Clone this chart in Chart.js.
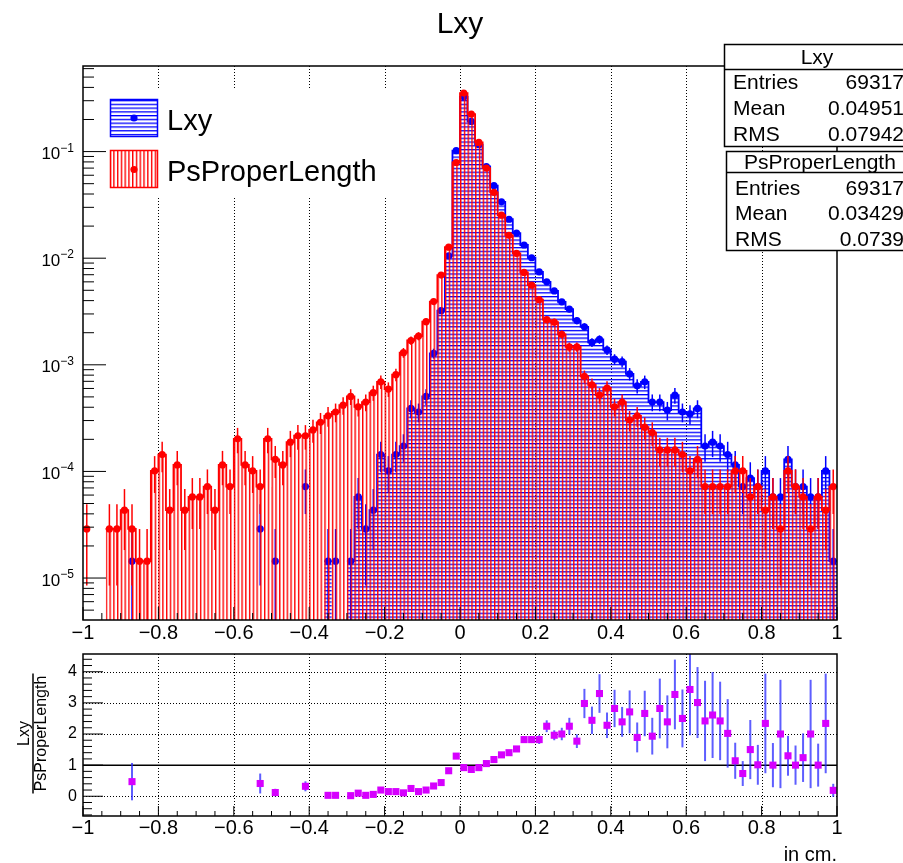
<!DOCTYPE html>
<html lang="en">
  <head>
    <meta charset="UTF-8" />
    <meta name="viewport" content="width=device-width, initial-scale=1.0" />
    <title>Lxy</title>
    <style>
      html, body { margin: 0; padding: 0; background: #fff; }
      #wrap { position: relative; width: 903px; height: 863px; overflow: hidden; }
      #wrap canvas { position: absolute; left: 0; top: 0; }
    </style>
  </head>
  <body>
    <div id="wrap">
      <canvas id="mainPad" width="903" height="863"></canvas>
      <canvas id="ratioPad" width="903" height="863"></canvas>
    </div>
    <script src="https://cdn.jsdelivr.net/npm/chart.js"></script>
    <script>
      // binning: 100 bins from -1 to 1 cm
      const X_MIN = -1;
      const X_MAX = 1;
      const N_BINS = 100;

      // normalised bin contents (fraction of entries per bin)
      const lxy = [
        0, 0, 0, 0, 0, 0, 1.44e-5, 0, 0, 0,
        0, 0, 0, 0, 0, 0, 0, 0, 0, 0,
        0, 0, 0, 2.89e-5, 0, 1.44e-5, 0, 0, 0, 7.21e-5,
        0, 0, 1.44e-5, 1.44e-5, 0, 1.44e-5, 5.77e-5, 2.89e-5, 4.33e-5, 1.44e-4,
        1.01e-4, 1.44e-4, 1.73e-4, 3.90e-4, 3.61e-4, 5.05e-4, 1.28e-3, 3.22e-3, 1.05e-2, 0.102,
        0.326, 0.192, 0.116, 0.0725, 0.048, 0.0338, 0.0232, 0.0172, 0.0133, 0.0101,
        7.45e-3, 6.00e-3, 4.93e-3, 3.90e-3, 3.33e-3, 2.60e-3, 2.27e-3, 1.62e-3, 1.73e-3, 1.38e-3,
        1.13e-3, 1.07e-3, 8.22e-4, 6.35e-4, 6.92e-4, 4.47e-4, 4.47e-4, 3.75e-4, 5.19e-4, 3.61e-4,
        3.46e-4, 3.90e-4, 1.73e-4, 1.88e-4, 1.73e-4, 1.44e-4, 1.15e-4, 7.21e-5, 8.66e-5, 7.21e-5,
        1.01e-4, 5.77e-5, 5.77e-5, 1.30e-4, 7.21e-5, 7.21e-5, 5.77e-5, 5.77e-5, 1.01e-4, 1.44e-5,
      ];
      const lxyErr = [
        0, 0, 0, 0, 0, 0, 1.44e-5, 0, 0, 0,
        0, 0, 0, 0, 0, 0, 0, 0, 0, 0,
        0, 0, 0, 2.04e-5, 0, 1.44e-5, 0, 0, 0, 3.23e-5,
        0, 0, 1.44e-5, 1.44e-5, 0, 1.44e-5, 2.89e-5, 2.04e-5, 2.50e-5, 4.56e-5,
        3.82e-5, 4.56e-5, 5.00e-5, 7.50e-5, 7.21e-5, 8.54e-5, 1.36e-4, 2.15e-4, 3.89e-4, 1.21e-3,
        2.17e-3, 1.66e-3, 1.29e-3, 1.02e-3, 8.32e-4, 6.98e-4, 5.79e-4, 4.98e-4, 4.38e-4, 3.82e-4,
        3.28e-4, 2.94e-4, 2.67e-4, 2.37e-4, 2.19e-4, 1.94e-4, 1.81e-4, 1.53e-4, 1.58e-4, 1.41e-4,
        1.27e-4, 1.24e-4, 1.09e-4, 9.57e-5, 1.00e-4, 8.03e-5, 8.03e-5, 7.36e-5, 8.66e-5, 7.21e-5,
        7.07e-5, 7.50e-5, 5.00e-5, 5.20e-5, 5.00e-5, 4.56e-5, 4.08e-5, 3.23e-5, 3.53e-5, 3.23e-5,
        3.82e-5, 2.89e-5, 2.89e-5, 4.33e-5, 3.23e-5, 3.23e-5, 2.89e-5, 2.89e-5, 3.82e-5, 1.44e-5,
      ];
      const psProperLength = [
        2.89e-5, 0, 0, 2.89e-5, 2.89e-5, 4.33e-5, 2.89e-5, 1.44e-5, 1.44e-5, 1.01e-4,
        1.44e-4, 4.33e-5, 1.15e-4, 4.33e-5, 5.77e-5, 5.77e-5, 7.21e-5, 4.33e-5, 1.15e-4, 7.21e-5,
        2.02e-4, 1.15e-4, 1.01e-4, 7.21e-5, 2.02e-4, 1.30e-4, 1.15e-4, 1.88e-4, 2.16e-4, 2.16e-4,
        2.45e-4, 2.89e-4, 3.32e-4, 3.61e-4, 4.18e-4, 5.05e-4, 4.04e-4, 4.47e-4, 5.48e-4, 6.92e-4,
        5.92e-4, 8.08e-4, 1.30e-3, 1.69e-3, 1.86e-3, 2.54e-3, 3.92e-3, 6.95e-3, 1.27e-2, 7.90e-2,
        0.354, 0.225, 0.122, 0.070, 0.0415, 0.0253, 0.0164, 0.0111, 7.36e-3, 5.58e-3,
        4.08e-3, 2.65e-3, 2.51e-3, 1.93e-3, 1.47e-3, 1.47e-3, 7.79e-4, 6.49e-4, 5.19e-4, 6.06e-4,
        4.04e-4, 4.47e-4, 3.03e-4, 3.32e-4, 2.60e-4, 2.31e-4, 1.59e-4, 1.59e-4, 1.59e-4, 1.44e-4,
        1.01e-4, 1.30e-4, 7.21e-5, 7.21e-5, 7.21e-5, 7.21e-5, 1.01e-4, 1.01e-4, 5.77e-5, 7.21e-5,
        4.33e-5, 5.77e-5, 2.89e-5, 1.01e-4, 7.21e-5, 5.77e-5, 2.89e-5, 5.77e-5, 4.33e-5, 7.21e-5,
      ];
      const psProperLengthErr = [
        2.04e-5, 0, 0, 2.04e-5, 2.04e-5, 2.50e-5, 2.04e-5, 1.44e-5, 1.44e-5, 3.82e-5,
        4.56e-5, 2.50e-5, 4.08e-5, 2.50e-5, 2.89e-5, 2.89e-5, 3.23e-5, 2.50e-5, 4.08e-5, 3.23e-5,
        5.40e-5, 4.08e-5, 3.82e-5, 3.23e-5, 5.40e-5, 4.33e-5, 4.08e-5, 5.20e-5, 5.59e-5, 5.59e-5,
        5.95e-5, 6.45e-5, 6.92e-5, 7.21e-5, 7.77e-5, 8.54e-5, 7.63e-5, 8.03e-5, 8.89e-5, 1.00e-4,
        9.24e-5, 1.08e-4, 1.37e-4, 1.56e-4, 1.64e-4, 1.91e-4, 2.38e-4, 3.17e-4, 4.29e-4, 1.07e-3,
        2.26e-3, 1.80e-3, 1.33e-3, 1.00e-3, 7.74e-4, 6.04e-4, 4.86e-4, 4.00e-4, 3.26e-4, 2.84e-4,
        2.43e-4, 1.96e-4, 1.90e-4, 1.67e-4, 1.46e-4, 1.46e-4, 1.06e-4, 9.68e-5, 8.66e-5, 9.35e-5,
        7.63e-5, 8.03e-5, 6.61e-5, 6.92e-5, 6.12e-5, 5.77e-5, 4.78e-5, 4.78e-5, 4.78e-5, 4.56e-5,
        3.82e-5, 4.33e-5, 3.23e-5, 3.23e-5, 3.23e-5, 3.23e-5, 3.82e-5, 3.82e-5, 2.89e-5, 3.23e-5,
        2.50e-5, 2.89e-5, 2.04e-5, 3.82e-5, 3.23e-5, 2.89e-5, 2.04e-5, 2.89e-5, 2.50e-5, 3.23e-5,
      ];

      // Lxy / PsProperLength per bin (null where a bin is empty)
      const ratio = [
        null, null, null, null, null, null, 0.47, null, null, null,
        null, null, null, null, null, null, null, null, null, null,
        null, null, null, 0.41, null, 0.12, null, null, null, 0.32,
        null, null, 0.03, 0.03, null, 0.02, 0.10, 0.03, 0.06, 0.20,
        0.15, 0.15, 0.11, 0.25, 0.15, 0.20, 0.33, 0.44, 0.82, 1.29,
        0.92, 0.86, 0.92, 1.05, 1.18, 1.33, 1.40, 1.52, 1.82, 1.82,
        1.82, 2.25, 1.96, 2.00, 2.25, 1.77, 2.98, 2.44, 3.30, 2.28,
        2.82, 2.39, 2.71, 1.89, 2.66, 1.93, 2.82, 2.39, 3.27, 2.50,
        3.43, 3.01, 2.42, 2.61, 2.42, 2.02, 1.14, 0.73, 1.50, 1.01,
        2.34, 1.00, 2.00, 1.30, 1.00, 1.24, 2.00, 1.00, 2.34, 0.19,
      ];
      const ratioErr = [
        0, 0, 0, 0, 0, 0, 0.6, 0, 0, 0,
        0, 0, 0, 0, 0, 0, 0, 0, 0, 0,
        0, 0, 0, 0.32, 0, 0.12, 0, 0, 0, 0.16,
        0, 0, 0.04, 0.04, 0, 0.03, 0.07, 0.05, 0.05, 0.07,
        0.07, 0.06, 0.04, 0.05, 0.04, 0.04, 0.04, 0.04, 0.04, 0.02,
        0.01, 0.01, 0.01, 0.02, 0.03, 0.04, 0.05, 0.06, 0.10, 0.11,
        0.14, 0.19, 0.16, 0.20, 0.27, 0.22, 0.47, 0.44, 0.62, 0.41,
        0.60, 0.48, 0.69, 0.48, 0.73, 0.59, 0.96, 0.85, 1.12, 0.93,
        1.47, 1.14, 1.29, 1.38, 1.26, 1.10, 0.58, 0.40, 0.95, 0.64,
        1.60, 0.71, 1.74, 0.64, 0.63, 0.78, 1.74, 0.69, 1.60, 0.21,
      ];

      // axis labels and stat box contents
      const xTicks = [-1, -0.8, -0.6, -0.4, -0.2, 0, 0.2, 0.4, 0.6, 0.8, 1];
      const logExponents = [-5, -4, -3, -2, -1];
      const ratioTicks = [0, 1, 2, 3, 4];
      const statLabels = ["Entries", "Mean", "RMS"];
      const lxyStats = ["69317", "0.04951", "0.07942"];
      const psStats = ["69317", "0.03429", "0.0739"];

      const Y_MIN = 4.04e-6;
      const Y_MAX = 0.635;
      const R_MIN = -0.634;
      const R_MAX = 4.57;

      const RED = "#ff0000";
      const BLUE = "#0000ff";
      const VIOLET = "#d600ff";
      const FONT = '"Liberation Sans", Arial, Helvetica, sans-serif';

      const binWidth = (X_MAX - X_MIN) / N_BINS;
      const binCenter = (i) => X_MIN + (i + 0.5) * binWidth;

      // step outline: one point per left bin edge, closed at the right edge
      function stepLine(values) {
        const pts = values.map((v, i) => ({ x: X_MIN + i * binWidth, y: v }));
        pts.push({ x: X_MAX, y: values[values.length - 1] });
        return pts;
      }
      function markerPoints(values) {
        return values.map((v, i) => ({ x: binCenter(i), y: v > 0 ? v : null }));
      }

      // ROOT-like hatch: lines every half bin, starting at the frame edge
      function hatch(color, vertical) {
        const tile = document.createElement("canvas");
        tile.width = 8;
        tile.height = 8;
        const g = tile.getContext("2d");
        g.fillStyle = color;
        [0, 4].forEach((o) => {
          if (vertical) g.fillRect(o, 0, 1.5, 8);
          else g.fillRect(0, o, 8, 1.4);
        });
        const p = g.createPattern(tile, "repeat");
        p.setTransform(new DOMMatrix([0.9425, 0, 0, 0.9425, 83, 66]));
        return p;
      }
      const redHatch = hatch(RED, true);
      const blueHatch = hatch(BLUE, false);

      function seg(ctx, x1, y1, x2, y2) {
        ctx.beginPath();
        ctx.moveTo(x1, y1);
        ctx.lineTo(x2, y2);
        ctx.stroke();
      }
      function fmtX(v) {
        if (Math.abs(v) < 1e-9) return "0";
        return (v < 0 ? "\u2212" : "") + String(+Math.abs(v).toFixed(1));
      }

      // vertical error bars, drawn just before a dataset's markers
      const errorBars = {
        id: "errorBars",
        beforeDatasetDraw(chart, args) {
          const ds = chart.data.datasets[args.index];
          if (!ds.errors) return;
          const { ctx, chartArea: a, scales } = chart;
          const x = scales.x, y = scales.y;
          const isLog = y.type === "logarithmic";
          ctx.save();
          ctx.beginPath();
          ctx.rect(a.left, a.top, a.right - a.left, a.bottom - a.top);
          ctx.clip();
          ctx.strokeStyle = ds.errColor;
          ctx.lineWidth = ds.errWidth;
          ds.data.forEach((p, i) => {
            const e = ds.errors[i];
            if (p.y === null || !e) return;
            const px = x.getPixelForValue(p.x);
            const lo = p.y - e;
            const yLo = isLog && lo <= 0 ? a.bottom + 5 : y.getPixelForValue(lo);
            const yHi = y.getPixelForValue(p.y + e);
            seg(ctx, px, yLo, px, yHi);
          });
          ctx.restore();
        },
      };

      function drawStatsBox(ctx, left, top, height, headH, title, titleX, rowsY, labelX, values) {
        const w = 200;
        ctx.fillStyle = "#fff";
        ctx.fillRect(left, top, w, height);
        ctx.strokeStyle = "#000";
        ctx.lineWidth = 1.5;
        ctx.strokeRect(left, top, w, height);
        seg(ctx, left, top + headH, left + w, top + headH);
        ctx.fillStyle = "#000";
        ctx.font = `21px ${FONT}`;
        ctx.textBaseline = "middle";
        ctx.textAlign = "center";
        ctx.fillText(title, titleX, top + headH / 2 + 1);
        statLabels.forEach((lab, i) => {
          ctx.textAlign = "left";
          ctx.fillText(lab, labelX, rowsY[i]);
          ctx.textAlign = "right";
          ctx.fillText(values[i], 904, rowsY[i]);
        });
      }

      const mainDecor = {
        id: "mainDecor",
        beforeDatasetsDraw(chart) {
          const { ctx, chartArea: a, scales: { x } } = chart;
          ctx.save();
          ctx.strokeStyle = "#000";
          ctx.lineWidth = 1;
          ctx.setLineDash([1, 2]);
          xTicks.slice(1, -1).forEach((v) => {
            const px = Math.round(x.getPixelForValue(v)) + 0.5;
            seg(ctx, px, a.top, px, a.bottom);
          });
          ctx.restore();
        },
        afterDatasetsDraw(chart) {
          const ctx = chart.ctx;
          ctx.save();
          ctx.fillStyle = "#fff";
          ctx.fillRect(92, 90, 296, 106);
          const entries = [
            { pat: blueHatch, color: BLUE, top: 99.5, dotY: 118, text: "Lxy", base: 130 },
            { pat: redHatch, color: RED, top: 150.5, dotY: 169.5, text: "PsProperLength", base: 180.5 },
          ];
          entries.forEach((e) => {
            ctx.fillStyle = e.pat;
            ctx.fillRect(110.5, e.top, 47, 37);
            ctx.strokeStyle = e.color;
            ctx.lineWidth = 1.5;
            ctx.strokeRect(110.5, e.top, 47, 37);
            ctx.fillStyle = e.color;
            ctx.beginPath();
            ctx.arc(134, e.dotY, 3.6, 0, Math.PI * 2);
            ctx.fill();
            ctx.fillStyle = "#000";
            ctx.font = `29px ${FONT}`;
            ctx.textAlign = "left";
            ctx.textBaseline = "alphabetic";
            ctx.fillText(e.text, 167, e.base);
          });
          ctx.restore();
        },
        afterDraw(chart) {
          const { ctx, chartArea: a, scales: { x, y } } = chart;
          ctx.save();
          ctx.strokeStyle = "#000";
          ctx.lineWidth = 1;
          // x ticks: major every 0.2, minor every 0.05
          for (let i = 0; i <= 40; i++) {
            const px = x.getPixelForValue(X_MIN + i * 0.05);
            seg(ctx, px, a.bottom, px, a.bottom - (i % 4 === 0 ? 13 : 7));
          }
          // log y ticks
          for (let e = -6; e <= 0; e++) {
            for (let m = 1; m <= 9; m++) {
              const v = m * Math.pow(10, e);
              if (v < y.min || v > y.max) continue;
              const py = y.getPixelForValue(v);
              seg(ctx, a.left, py, a.left + (m === 1 ? 23 : 11), py);
            }
          }
          ctx.lineWidth = 1.5;
          ctx.strokeRect(a.left, a.top, a.right - a.left, a.bottom - a.top);

          ctx.fillStyle = "#000";
          ctx.font = `20px ${FONT}`;
          ctx.textAlign = "center";
          ctx.textBaseline = "middle";
          xTicks.forEach((v) => ctx.fillText(fmtX(v), x.getPixelForValue(v), 633));

          // 10^n labels
          logExponents.forEach((e) => {
            const py = y.getPixelForValue(Math.pow(10, e));
            const sup = "\u2212" + Math.abs(e);
            ctx.textAlign = "left";
            ctx.textBaseline = "alphabetic";
            ctx.font = `12px ${FONT}`;
            const wSup = ctx.measureText(sup).width;
            ctx.font = `17px ${FONT}`;
            const wBase = ctx.measureText("10").width;
            ctx.fillText("10", 74 - wSup - wBase, py + 7.5);
            ctx.font = `12px ${FONT}`;
            ctx.fillText(sup, 74 - wSup, py);
          });

          ctx.font = `30px ${FONT}`;
          ctx.textAlign = "center";
          ctx.fillText("Lxy", 460, 33);

          drawStatsBox(ctx, 724.5, 44.5, 102, 25, "Lxy", 817, [83, 109, 135], 733, lxyStats);
          drawStatsBox(ctx, 726.5, 151.5, 99, 21, "PsProperLength", 820, [189, 214, 240], 735, psStats);
          ctx.restore();
        },
      };

      new Chart(document.getElementById("mainPad"), {
        type: "line",
        data: {
          datasets: [
            {
              label: "PsProperLength",
              data: markerPoints(psProperLength),
              errors: psProperLengthErr,
              errColor: RED,
              errWidth: 1.5,
              showLine: false,
              pointRadius: 3.6,
              pointBackgroundColor: RED,
              pointBorderWidth: 0,
            },
            {
              label: "PsProperLength hist",
              data: stepLine(psProperLength),
              stepped: "before",
              borderColor: RED,
              borderWidth: 1.8,
              backgroundColor: redHatch,
              fill: "start",
              pointRadius: 0,
            },
            {
              label: "Lxy",
              data: markerPoints(lxy),
              errors: lxyErr,
              errColor: BLUE,
              errWidth: 1.5,
              showLine: false,
              pointRadius: 3.6,
              pointBackgroundColor: BLUE,
              pointBorderWidth: 0,
            },
            {
              label: "Lxy hist",
              data: stepLine(lxy),
              stepped: "before",
              borderColor: BLUE,
              borderWidth: 1.8,
              backgroundColor: blueHatch,
              fill: "start",
              pointRadius: 0,
            },
          ],
        },
        options: {
          responsive: false,
          animation: false,
          events: [],
          layout: { padding: { left: 83, right: 66, top: 66, bottom: 243 } },
          scales: {
            x: { type: "linear", min: X_MIN, max: X_MAX, display: false },
            y: { type: "logarithmic", min: Y_MIN, max: Y_MAX, display: false },
          },
          plugins: { legend: { display: false }, tooltip: { enabled: false } },
        },
        plugins: [errorBars, mainDecor],
      });

      const ratioDecor = {
        id: "ratioDecor",
        beforeDatasetsDraw(chart) {
          const { ctx, chartArea: a, scales: { x, y } } = chart;
          ctx.save();
          ctx.strokeStyle = "#000";
          ctx.lineWidth = 1;
          ctx.setLineDash([1, 2]);
          xTicks.slice(1, -1).forEach((v) => {
            const px = Math.round(x.getPixelForValue(v)) + 0.5;
            seg(ctx, px, a.top, px, a.bottom);
          });
          ratioTicks.forEach((v) => {
            if (v === 1) return;
            const py = Math.round(y.getPixelForValue(v)) + 0.5;
            seg(ctx, a.left, py, a.right, py);
          });
          ctx.setLineDash([]);
          ctx.lineWidth = 1.5;
          const p1 = y.getPixelForValue(1);
          seg(ctx, a.left, p1, a.right, p1);
          ctx.restore();
        },
        afterDraw(chart) {
          const { ctx, chartArea: a, scales: { x, y } } = chart;
          ctx.save();
          ctx.strokeStyle = "#000";
          ctx.lineWidth = 1;
          for (let i = 0; i <= 40; i++) {
            const px = x.getPixelForValue(X_MIN + i * 0.05);
            seg(ctx, px, a.bottom, px, a.bottom - (i % 4 === 0 ? 10 : 5));
          }
          for (let i = -3; i <= 22; i++) {
            const py = y.getPixelForValue(i * 0.2);
            seg(ctx, a.left, py, a.left + (i % 5 === 0 ? 20 : 9), py);
          }
          ctx.lineWidth = 1.5;
          ctx.strokeRect(a.left, a.top, a.right - a.left, a.bottom - a.top);

          ctx.fillStyle = "#000";
          ctx.font = `20px ${FONT}`;
          ctx.textAlign = "center";
          ctx.textBaseline = "middle";
          xTicks.forEach((v) => ctx.fillText(fmtX(v), x.getPixelForValue(v), 828));

          ctx.font = `16px ${FONT}`;
          ctx.textAlign = "right";
          ratioTicks.forEach((v) => ctx.fillText(String(v), 77, y.getPixelForValue(v)));

          ctx.font = `20px ${FONT}`;
          ctx.textBaseline = "alphabetic";
          ctx.fillText("in cm.", 837, 861);

          // fraction-style y title, rotated
          ctx.translate(33, 733.5);
          ctx.rotate(-Math.PI / 2);
          ctx.lineWidth = 1.5;
          seg(ctx, -60, 0, 60, 0);
          ctx.font = `16px ${FONT}`;
          ctx.textAlign = "center";
          ctx.fillText("Lxy", 0, -4);
          ctx.fillText("PsProperLength", 0, 13);
          ctx.restore();
        },
      };

      new Chart(document.getElementById("ratioPad"), {
        type: "line",
        data: {
          datasets: [
            {
              label: "Lxy / PsProperLength",
              data: ratio.map((v, i) => ({ x: binCenter(i), y: v })),
              errors: ratioErr,
              errColor: "rgba(40, 40, 255, 0.75)",
              errWidth: 2,
              showLine: false,
              pointStyle: "rect",
              pointRadius: 5,
              pointBackgroundColor: VIOLET,
              pointBorderWidth: 0,
            },
          ],
        },
        options: {
          responsive: false,
          animation: false,
          events: [],
          layout: { padding: { left: 83, right: 66, top: 654, bottom: 47 } },
          scales: {
            x: { type: "linear", min: X_MIN, max: X_MAX, display: false },
            y: { type: "linear", min: R_MIN, max: R_MAX, display: false },
          },
          plugins: { legend: { display: false }, tooltip: { enabled: false } },
        },
        plugins: [errorBars, ratioDecor],
      });
    </script>
  </body>
</html>
